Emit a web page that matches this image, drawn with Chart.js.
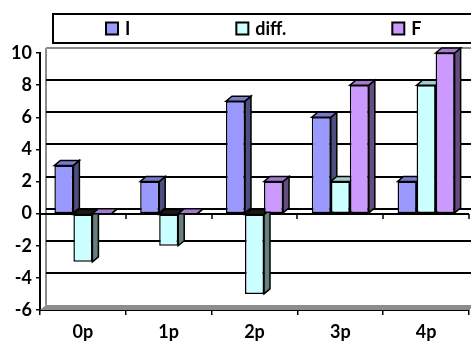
<!DOCTYPE html>
<html>
<head>
<meta charset="utf-8">
<script src="https://cdn.jsdelivr.net/npm/chart.js@4/dist/chart.umd.min.js"></script>
<style>
  html, body { margin: 0; padding: 0; background: #fff; }
  #wrap { width: 471px; height: 347px; position: relative; }
</style>
</head>
<body>
<div id="wrap"><canvas id="c" width="471" height="347"></canvas></div>
<script>
// ---- data ----
const categories = ['0p', '1p', '2p', '3p', '4p'];
const seriesNames = ['I', 'diff.', 'F'];
const valuesI = [3, 2, 7, 6, 2];
const valuesDiff = [-3, -2, -5, 2, 8];
const valuesF = [0, 0, 2, 8, 10];
const yTicks = [-6, -4, -2, 0, 2, 4, 6, 8, 10];

// ---- styles ----
const FONT = 'Lato, "Open Sans", "Liberation Sans", sans-serif';
const FS = 18;
const fronts = ['#9999FF', '#CCFFFF', '#CC99FF'];
const sides = ['#4D4D80', '#668080', '#664D80'];
const tops = ['#7A7ACC', '#A3CCCC', '#A37ACC'];
const DX = 6, DY = 5;

function poly(ctx, pts, fill, stroke, lw) {
  ctx.beginPath();
  ctx.moveTo(pts[0][0], pts[0][1]);
  for (let i = 1; i < pts.length; i++) ctx.lineTo(pts[i][0], pts[i][1]);
  ctx.closePath();
  if (fill) { ctx.fillStyle = fill; ctx.fill(); }
  if (stroke) { ctx.strokeStyle = stroke; ctx.lineWidth = lw || 1; ctx.stroke(); }
}

const scenePlugin = {
  id: 'scene3d',
  beforeDatasetsDraw(chart) {
    const ctx = chart.ctx;
    const ys = chart.scales.y, xs = chart.scales.x;
    const L = xs.left, R = xs.right;
    ctx.save();
    // floor at the bottom
    const yb = ys.getPixelForValue(yTicks[0]);
    poly(ctx, [[L, yb], [R, yb], [R + DX, yb - DY], [L + DX, yb - DY]], '#8c8c8c', null);
    // left wall edge
    const yt = ys.getPixelForValue(yTicks[yTicks.length - 1]);
    ctx.strokeStyle = '#8c8c8c'; ctx.lineWidth = 2;
    ctx.beginPath(); ctx.moveTo(L + DX, yt - DY); ctx.lineTo(L + DX, yb - DY); ctx.stroke();
    // back wall grid lines
    yTicks.forEach((v, i) => {
      if (i === 0) return;
      const y = Math.round(ys.getPixelForValue(v) - DY);
      ctx.strokeStyle = (i === yTicks.length - 1) ? '#8c8c8c' : '#000';
      ctx.lineWidth = 2;
      ctx.beginPath(); ctx.moveTo(L + DX, y); ctx.lineTo(R + DX + 10, y); ctx.stroke();
    });
    // zero line with category tick marks
    const y0 = Math.round(ys.getPixelForValue(0));
    ctx.strokeStyle = '#000'; ctx.lineWidth = 2;
    ctx.beginPath(); ctx.moveTo(L, y0); ctx.lineTo(R, y0); ctx.stroke();
    const catW = xs.width / categories.length;
    ctx.lineWidth = 1.5;
    for (let i = 1; i <= categories.length; i++) {
      const x = Math.round(xs.getPixelForValue(i - 1) + catW / 2);
      ctx.beginPath(); ctx.moveTo(x, y0); ctx.lineTo(x, y0 + 5); ctx.stroke();
    }
    // sides and tops of the columns (painter order: left to right)
    const metas = chart.data.datasets.map((d, i) => chart.getDatasetMeta(i));
    for (let c = 0; c < categories.length; c++) {
      metas.forEach((meta, s) => {
        const el = meta.data[c];
        const p = el.getProps(['x', 'y', 'base', 'width'], true);
        const x1 = p.x - p.width / 2, x2 = p.x + p.width / 2;
        const yTop = Math.min(p.y, p.base), yBot = Math.max(p.y, p.base);
        const neg = p.y > p.base;
        poly(ctx, [[x2, yTop], [x2 + DX, yTop - DY], [x2 + DX, yBot - DY], [x2, yBot]], sides[s], '#000', 1.5);
        poly(ctx, [[x1, yTop], [x2, yTop], [x2 + DX, yTop - DY], [x1 + DX, yTop - DY]], neg ? '#1a1a1a' : tops[s], '#000', 1.5);
      });
    }
    ctx.restore();
  },
  afterDraw(chart) {
    const ctx = chart.ctx;
    ctx.save();
    // legend frame
    ctx.strokeStyle = '#000'; ctx.lineWidth = 2;
    ctx.strokeRect(53, 14, 430, 29);
    ctx.font = 'bold ' + FS + 'px ' + FONT;
    ctx.textBaseline = 'middle';
    let x = 106;
    const cy = 28.5;
    seriesNames.forEach((name, i) => {
      ctx.fillStyle = fronts[i];
      ctx.fillRect(x, cy - 6, 12, 12);
      ctx.strokeStyle = '#000'; ctx.lineWidth = 2;
      ctx.strokeRect(x, cy - 6, 12, 12);
      ctx.fillStyle = '#000';
      ctx.fillText(name, x + 19, cy + 1);
      const w = 19 + ctx.measureText(name).width;
      x += w + 106;
    });
    ctx.restore();
  }
};

new Chart(document.getElementById('c'), {
  type: 'bar',
  data: {
    labels: categories,
    datasets: [valuesI, valuesDiff, valuesF].map((vals, i) => ({
      label: seriesNames[i],
      data: vals,
      backgroundColor: fronts[i],
      borderColor: '#000',
      borderWidth: 1.5,
      borderSkipped: false,
      categoryPercentage: 0.665,
      barPercentage: 1.0
    }))
  },
  options: {
    responsive: false,
    animation: false,
    devicePixelRatio: 1,
    layout: { padding: { top: 53, right: 2, left: 0, bottom: 0 } },
    plugins: { legend: { display: false }, tooltip: { enabled: false } },
    scales: {
      x: {
        afterFit: s => { s.height = 37; },
        grid: { offset: true, drawOnChartArea: false, color: '#000', lineWidth: 1.5, tickLength: 5 },
        border: { color: '#000', width: 2 },
        ticks: { color: '#000', font: { family: FONT, size: FS, weight: 'bold' }, padding: 6 }
      },
      y: {
        min: -6, max: 10,
        afterFit: s => { s.width = 40; },
        afterBuildTicks: s => { s.ticks = yTicks.map(v => ({ value: v })); },
        grid: { drawOnChartArea: false, color: '#000', lineWidth: 1.5, tickLength: 4 },
        border: { color: '#000', width: 2 },
        ticks: { color: '#000', font: { family: FONT, size: FS, weight: 'bold' }, padding: 4 }
      }
    }
  },
  plugins: [scenePlugin]
});
</script>
</body>
</html>
